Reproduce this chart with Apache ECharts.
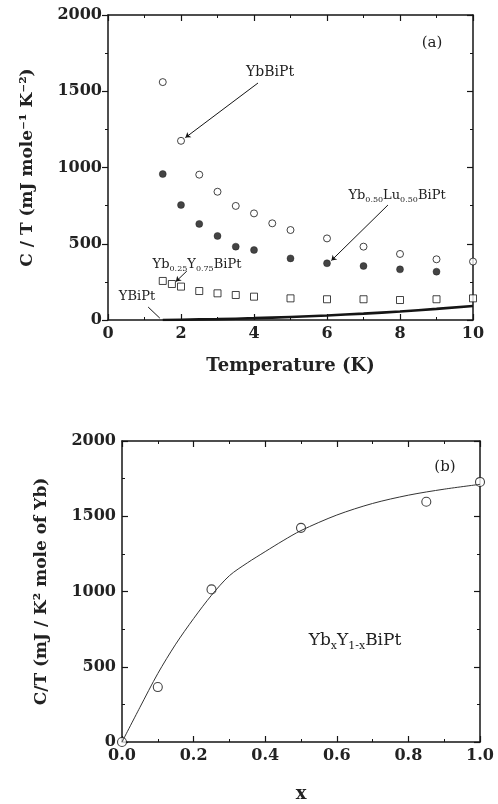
<!DOCTYPE html>
<html>
<head>
<meta charset="utf-8">
<script src="https://cdn.jsdelivr.net/npm/echarts@6/dist/echarts.min.js"></script>
<style>
html,body{margin:0;padding:0;background:#fff;}
#chart{width:498px;height:804px;}
</style>
</head>
<body>
<div id="chart"></div>
<script>
// ---- Panel (a) data ----
const tempYbBiPt = [1.5, 2, 2.5, 3, 3.5, 4, 4.5, 5, 6, 7, 8, 9, 10];
const ctYbBiPt   = [1560, 1175, 953, 841, 748, 699, 634, 590, 535, 481, 433, 398, 383];
const tempLu     = [1.5, 2, 2.5, 3, 3.5, 4, 5, 6, 7, 8, 9];
const ctLu       = [957, 754, 630, 551, 481, 459, 404, 372, 354, 332, 317];
const tempY25    = [1.5, 1.75, 2, 2.5, 3, 3.5, 4, 5, 6, 7, 8, 9, 10];
const ctY25      = [256, 236, 219, 190, 175, 164, 153, 142, 136, 136, 131, 136, 142];
const tempYBiPt  = [1.5, 2, 3, 4, 5, 6, 7, 8, 9, 10];
const ctYBiPt    = [0, 2, 6, 12, 20, 30, 42, 56, 73, 92];
const xTicksA    = ['0', '2', '4', '6', '8', '10'];
const yTicks     = ['0', '500', '1000', '1500', '2000'];

// ---- Panel (b) data ----
const xFrac      = [0, 0.1, 0.25, 0.5, 0.85, 1.0];
const ctPerYb    = [0, 365, 1014, 1423, 1596, 1728];
const fitX       = [0, 0.05, 0.1, 0.15, 0.2, 0.25, 0.3, 0.35, 0.4, 0.45, 0.5, 0.6, 0.7, 0.8, 0.9, 1.0];
const fitY       = [0, 230, 455, 650, 820, 975, 1105, 1190, 1265, 1338, 1405, 1508, 1585, 1640, 1680, 1712];
const xTicksB    = ['0.0', '0.2', '0.4', '0.6', '0.8', '1.0'];

const zip = (a, b) => a.map((v, i) => [v, b[i]]);
const INK = '#151515';
const FONT = 'DejaVu Serif';

function axisCommon(extra, tickInside) {
  return Object.assign({
    type: 'value',
    splitLine: { show: false },
    axisLine: { show: true, onZero: false, lineStyle: { color: INK, width: 1.5 } },
    axisTick: { show: true, inside: tickInside !== false, length: 6, lineStyle: { color: INK, width: 1.2 } },
    minorTick: { show: true, splitNumber: 2, length: 3, lineStyle: { color: INK, width: 1 } },
    axisLabel: { show: false }
  }, extra);
}
const tickLabel = (arr, step, min) => ({
  show: true, fontFamily: FONT, fontWeight: 'bold', fontSize: 16, color: '#222', margin: 6,
  formatter: v => arr[Math.round((v - min) / step)]
});

const chart = echarts.init(document.getElementById('chart'));
chart.setOption({
  backgroundColor: '#fff',
  animation: false,
  grid: [
    { left: 108, right: 25, top: 15, height: 305 },
    { left: 122, right: 18, top: 441, height: 301 }
  ],
  xAxis: [
    axisCommon({ gridIndex: 0, position: 'bottom', min: 0, max: 10, interval: 2,
      axisLabel: tickLabel(xTicksA, 2, 0),
      name: 'Temperature (K)', nameLocation: 'middle', nameGap: 37,
      nameTextStyle: { fontFamily: FONT, fontWeight: 'bold', fontSize: 18, color: '#222' } }),
    axisCommon({ gridIndex: 0, position: 'top', min: 0, max: 10, interval: 2 }),
    axisCommon({ gridIndex: 1, position: 'bottom', min: 0, max: 1, interval: 0.2,
      axisLabel: tickLabel(xTicksB, 0.2, 0),
      name: 'x', nameLocation: 'middle', nameGap: 43,
      nameTextStyle: { fontFamily: FONT, fontWeight: 'bold', fontSize: 18, color: '#222' } }),
    axisCommon({ gridIndex: 1, position: 'top', min: 0, max: 1, interval: 0.2 })
  ],
  yAxis: [
    axisCommon({ gridIndex: 0, position: 'left', min: 0, max: 2000, interval: 500,
      axisLabel: tickLabel(yTicks, 500, 0),
      name: 'C / T (mJ mole⁻¹ K⁻²)', nameLocation: 'middle', nameGap: 72,
      nameTextStyle: { fontFamily: FONT, fontWeight: 'bold', fontSize: 17, color: '#222' } }, false),
    axisCommon({ gridIndex: 0, position: 'right', min: 0, max: 2000, interval: 500 }),
    axisCommon({ gridIndex: 1, position: 'left', min: 0, max: 2000, interval: 500,
      axisLabel: tickLabel(yTicks, 500, 0),
      name: 'C/T (mJ / K² mole of Yb)', nameLocation: 'middle', nameGap: 72,
      nameTextStyle: { fontFamily: FONT, fontWeight: 'bold', fontSize: 17, color: '#222' } }),
    axisCommon({ gridIndex: 1, position: 'right', min: 0, max: 2000, interval: 500 })
  ],
  series: [
    {
      name: 'YBiPt', type: 'line', xAxisIndex: 0, yAxisIndex: 0, smooth: true,
      showSymbol: false, data: zip(tempYBiPt, ctYBiPt),
      lineStyle: { color: INK, width: 2.6 },
      markLine: { silent: true, symbol: ['none', 'none'], label: { show: false },
        lineStyle: { color: INK, width: 1, type: 'solid' },
        data: [[{ coord: [1.1, 85] }, { coord: [1.42, 12] }]] }
    },
    {
      name: 'Yb0.25Y0.75BiPt', type: 'scatter', xAxisIndex: 0, yAxisIndex: 0,
      symbol: 'rect', symbolSize: 7, data: zip(tempY25, ctY25),
      itemStyle: { color: '#fff', borderColor: INK, borderWidth: 1 },
      markLine: { silent: true, symbol: ['none', 'arrow'], symbolSize: 5, label: { show: false },
        lineStyle: { color: INK, width: 1, type: 'solid' },
        data: [[{ coord: [2.16, 321] }, { coord: [1.86, 252] }]] }
    },
    {
      name: 'Yb0.50Lu0.50BiPt', type: 'scatter', xAxisIndex: 0, yAxisIndex: 0,
      symbol: 'circle', symbolSize: 7, data: zip(tempLu, ctLu),
      itemStyle: { color: INK, borderColor: INK, borderWidth: 0.5 },
      markLine: { silent: true, symbol: ['none', 'arrow'], symbolSize: 5, label: { show: false },
        lineStyle: { color: INK, width: 1, type: 'solid' },
        data: [[{ coord: [7.67, 754] }, { coord: [6.12, 390] }]] }
    },
    {
      name: 'YbBiPt', type: 'scatter', xAxisIndex: 0, yAxisIndex: 0,
      symbol: 'circle', symbolSize: 7, data: zip(tempYbBiPt, ctYbBiPt),
      itemStyle: { color: '#fff', borderColor: INK, borderWidth: 1 },
      markLine: { silent: true, symbol: ['none', 'arrow'], symbolSize: 5, label: { show: false },
        lineStyle: { color: INK, width: 1, type: 'solid' },
        data: [[{ coord: [4.11, 1554] }, { coord: [2.12, 1196] }]] }
    },
    {
      name: 'fit', type: 'line', xAxisIndex: 2, yAxisIndex: 2, smooth: 0.3,
      showSymbol: false, data: zip(fitX, fitY),
      lineStyle: { color: '#333', width: 1 }
    },
    {
      name: 'YbxY1-xBiPt', type: 'scatter', xAxisIndex: 2, yAxisIndex: 2,
      symbol: 'circle', symbolSize: 9, data: zip(xFrac, ctPerYb),
      itemStyle: { color: '#fff', borderColor: INK, borderWidth: 1.1 }
    }
  ],
  graphic: [
    { type: 'text', x: 432, y: 43, style: { text: '(a)', font: '15px "DejaVu Serif"', fill: '#222', align: 'center', verticalAlign: 'middle' } },
    { type: 'text', x: 270, y: 72, style: { text: 'YbBiPt', font: '14px "DejaVu Serif"', fill: '#222', align: 'center', verticalAlign: 'middle' } },
    { type: 'text', x: 397, y: 196, style: {
        text: 'Yb{s|0.50}Lu{s|0.50}BiPt', fontFamily: FONT, fontSize: 13, lineHeight: 16, fill: '#222', align: 'center', verticalAlign: 'middle',
        rich: { s: { fontFamily: FONT, fontSize: 8, lineHeight: 8, verticalAlign: 'bottom', fill: '#222' } } } },
    { type: 'text', x: 197, y: 265, style: {
        text: 'Yb{s|0.25}Y{s|0.75}BiPt', fontFamily: FONT, fontSize: 13, lineHeight: 16, fill: '#222', align: 'center', verticalAlign: 'middle',
        rich: { s: { fontFamily: FONT, fontSize: 8, lineHeight: 8, verticalAlign: 'bottom', fill: '#222' } } } },
    { type: 'text', x: 137, y: 297, style: { text: 'YBiPt', font: '13px "DejaVu Serif"', fill: '#222', align: 'center', verticalAlign: 'middle' } },
    { type: 'text', x: 445, y: 467, style: { text: '(b)', font: '15px "DejaVu Serif"', fill: '#222', align: 'center', verticalAlign: 'middle' } },
    { type: 'text', x: 355, y: 641, style: {
        text: 'Yb{s|x}Y{s|1-x}BiPt', fontFamily: FONT, fontSize: 17, lineHeight: 22, fill: '#222', align: 'center', verticalAlign: 'middle',
        rich: { s: { fontFamily: FONT, fontSize: 11, lineHeight: 11, verticalAlign: 'bottom', fill: '#222' } } } }
  ]
});
</script>
</body>
</html>
